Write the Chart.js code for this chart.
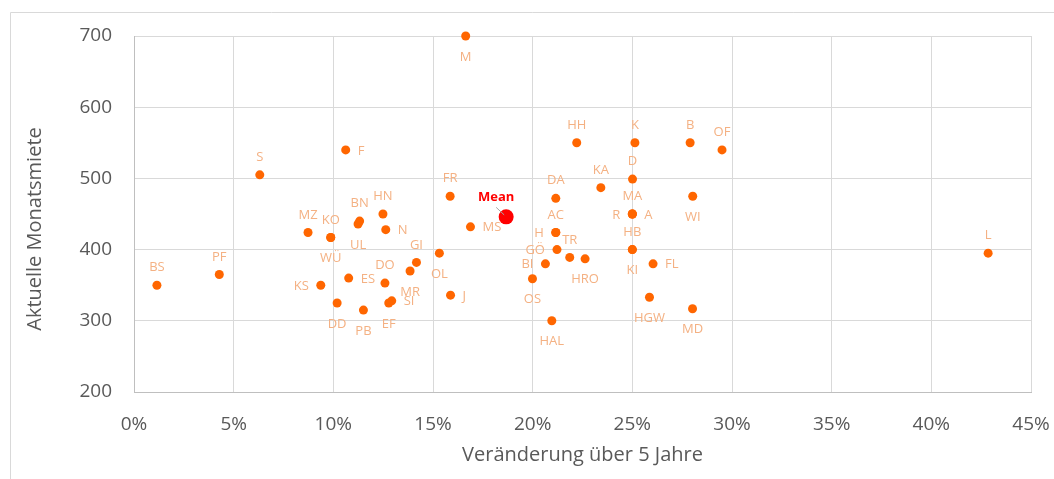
<!DOCTYPE html>
<html>
<head>
<meta charset="utf-8">
<script src="https://cdn.jsdelivr.net/npm/chart.js@4/dist/chart.umd.min.js"></script>
<style>
  body { margin: 0; background: #fff; }
  canvas { display: block; }
</style>
</head>
<body>
<canvas id="chart1" width="1054" height="479"></canvas>
<script>
// city codes, change over 5 years (%), current monthly rent
const cities = ['M', 'HH', 'K', 'B', 'OF', 'S', 'F', 'FR', 'DA', 'KA',
    'D', 'MA', 'R', 'A', 'WI', 'HB', 'KI', 'FL', 'HGW', 'MD',
    'AC', 'H', 'GÖ', 'TR', 'HRO', 'BI', 'OS', 'HAL', 'MS', 'OL',
    'J', 'GI', 'MR', 'SI', 'EF', 'ES', 'DO', 'DD', 'PB', 'KS',
    'HN', 'N', 'BN', 'UL', 'MZ', 'KO', 'WÜ', 'L', 'PF', 'BS'];
const change = [16.64, 22.21, 25.13, 27.9, 29.5, 6.31, 10.62, 15.86, 21.16, 23.42,
    25.01, 25.0, 25.0, 25.0, 28.03, 25.0, 25.0, 26.04, 25.86, 28.02,
    21.16, 21.16, 21.22, 21.86, 22.63, 20.64, 19.99, 20.96, 16.88, 15.32,
    15.88, 14.17, 13.85, 12.93, 12.78, 10.77, 12.59, 10.19, 11.51, 9.37,
    12.49, 12.63, 11.32, 11.24, 8.73, 9.87, 9.87, 42.85, 4.28, 1.15];
const rent = [700, 550, 550, 550, 540, 505, 540, 475, 472, 487,
    499, 450, 450, 450, 475, 400, 400, 380, 333, 317,
    424, 424, 400, 389, 387, 380, 359, 300, 432, 395,
    336, 382, 370, 328, 325, 360, 353, 325, 315, 350,
    450, 428, 440, 436, 424, 417, 417, 395, 365, 350];
const meanChange = 18.67;
const meanRent = 446;

// where each data label sits: a = above, b = below, l = left, r = right
const labelSide = ['b', 'a', 'a', 'a', 'a', 'a', 'r', 'a', 'a', 'a',
    'a', 'a', 'l', 'r', 'b', 'a', 'b', 'r', 'b', 'b',
    'a', 'l', 'l', 'a', 'b', 'l', 'b', 'b', 'r', 'b',
    'r', 'a', 'b', 'r', 'b', 'r', 'a', 'b', 'b', 'l',
    'a', 'r', 'a', 'b', 'a', 'a', 'b', 'a', 'a', 'a'];

const FONT = "'Open Sans', sans-serif";

const frame = {
    id: 'frame',
    beforeDraw(chart) {
        const c = chart.ctx;
        c.save();
        c.strokeStyle = '#d9d9d9';
        c.lineWidth = 1;
        c.beginPath();
        c.moveTo(10.5, 479);
        c.lineTo(10.5, 12.5);
        c.lineTo(1054, 12.5);
        c.stroke();
        // y axis title
        c.fillStyle = '#595959';
        c.font = '20px ' + FONT;
        c.textAlign = 'center';
        c.textBaseline = 'middle';
        c.translate(35, 229);
        c.rotate(-Math.PI / 2);
        c.fillText('Aktuelle Monatsmiete', 0, 0);
        c.restore();
    }
};

const labels = {
    id: 'labels',
    afterDatasetsDraw(chart) {
        const c = chart.ctx;
        c.save();
        c.font = '13px ' + FONT;
        c.fillStyle = '#f4b183';
        c.textBaseline = 'alphabetic';
        const pts = chart.getDatasetMeta(0).data;
        pts.forEach((p, i) => {
            const side = labelSide[i];
            let x = p.x, y = p.y + 4.6;
            if (side === 'a') { c.textAlign = 'center'; y -= 18.5; }
            else if (side === 'b') { c.textAlign = 'center'; y += 20; }
            else if (side === 'l') { c.textAlign = 'right'; x -= 12; }
            else { c.textAlign = 'left'; x += 12; }
            c.fillText(cities[i], x, y);
        });
        // mean label with leader line
        const m = chart.getDatasetMeta(1).data[0];
        c.strokeStyle = '#a6a6a6';
        c.lineWidth = 1;
        c.beginPath();
        c.moveTo(m.x - 10, m.y - 9.5);
        c.lineTo(m.x - 2, m.y - 2);
        c.stroke();
        c.font = 'bold 13px ' + FONT;
        c.fillStyle = '#ff0000';
        c.textAlign = 'center';
        c.fillText('Mean', m.x - 10, m.y - 20 + 4.6);
        c.restore();
    }
};

const ctx1 = document.getElementById('chart1').getContext('2d');
const chart1 = new Chart(ctx1, {
    type: 'scatter',
    data: {
        datasets: [{
            data: cities.map((c, i) => ({ x: change[i], y: rent[i] })),
            backgroundColor: '#ff6600',
            borderWidth: 0,
            pointRadius: 4.5,
            clip: false
        }, {
            data: [{ x: meanChange, y: meanRent }],
            backgroundColor: '#ff0000',
            borderWidth: 0,
            pointRadius: 7.5,
            clip: false
        }]
    },
    options: {
        responsive: false,
        animation: false,
        events: [],
        layout: { padding: { left: 10, right: 23, top: 36, bottom: 0 } },
        plugins: { legend: { display: false }, tooltip: { enabled: false } },
        scales: {
            x: {
                type: 'linear',
                min: 0,
                max: 45,
                ticks: {
                    stepSize: 5,
                    padding: 21,
                    color: '#595959',
                    font: { family: FONT, size: 19 },
                    callback: v => v + '%'
                },
                grid: { color: '#d9d9d9', drawTicks: false },
                border: { color: '#bfbfbf' },
                title: {
                    display: true,
                    text: 'Veränderung über 5 Jahre',
                    color: '#595959',
                    font: { family: FONT, size: 20 },
                    padding: { top: 0, bottom: 12 }
                },
                afterFit: s => {
                    s.height = 87;
                    s.paddingLeft = 0;
                    s.paddingRight = 0;
                }
            },
            y: {
                min: 200,
                max: 700,
                ticks: {
                    stepSize: 100,
                    padding: 22,
                    color: '#595959',
                    font: { family: FONT, size: 19 }
                },
                grid: { color: '#d9d9d9', drawTicks: false },
                border: { color: '#bfbfbf' },
                afterFit: s => {
                    s.width = 124;
                    s.paddingTop = 0;
                    s.paddingBottom = 0;
                }
            }
        }
    },
    plugins: [frame, labels]
});
</script>
</body>
</html>
